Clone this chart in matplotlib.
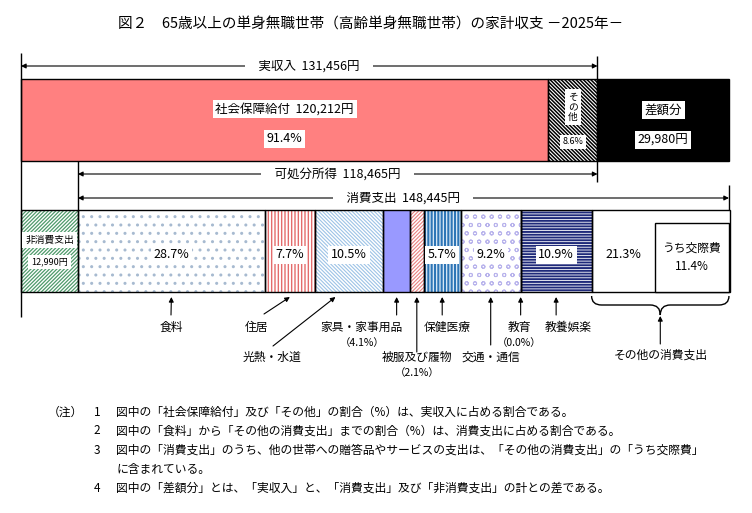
import matplotlib.pyplot as plt
from matplotlib.path import Path
from matplotlib.patches import PathPatch

plt.rcParams['font.family'] = ['Noto Sans CJK JP', 'DejaVu Sans']

# データ（円・%）
title = '図２　65歳以上の単身無職世帯（高齢単身無職世帯）の家計収支 －2025年－'
income = 131456          # 実収入
social = 120212          # 社会保障給付
social_pct = 91.4
other_income_pct = 8.6
deficit = 29980          # 差額分
disposable = 118465      # 可処分所得
non_cons = 12990         # 非消費支出
cons = 148445            # 消費支出
cats = ['食料', '住居', '光熱・水道', '家具・家事用品', '被服及び履物',
        '保健医療', '交通・通信', '教育', '教養娯楽', 'その他の消費支出']
shares = [28.7, 7.7, 10.5, 4.1, 2.1, 5.7, 9.2, 0.0, 10.9, 21.3]
kosai_pct = 11.4         # うち交際費
notes = [
    ('（注）', '1', '図中の「社会保障給付」及び「その他」の割合（%）は、実収入に占める割合である。'),
    ('', '2', '図中の「食料」から「その他の消費支出」までの割合（%）は、消費支出に占める割合である。'),
    ('', '3', '図中の「消費支出」のうち、他の世帯への贈答品やサービスの支出は、「その他の消費支出」の「うち交際費」'),
    ('', '', 'に含まれている。'),
    ('', '4', '図中の「差額分」とは、「実収入」と、「消費支出」及び「非消費支出」の計との差である。'),
]

# 見た目（塗り・ハッチ）
seg_styles = [
    dict(fc='white', hatch='..', hc='#a7bad0', hlw=1.0),
    dict(fc='white', hatch='|||||', hc='#e46c6c', hlw=1.0),
    dict(fc='white', hatch='\\' * 9, hc='#9dc3e6', hlw=0.8),
    dict(fc='#9999ff', hatch=None, hc=None, hlw=1.0),
    dict(fc='white', hatch='/' * 9, hc='#e88080', hlw=0.8),
    dict(fc='#ddebf7', hatch='|||||', hc='#2e75b6', hlw=1.5),
    dict(fc='white', hatch='oo', hc='#b9b4ec', hlw=0.7),
    dict(fc='white', hatch=None, hc=None, hlw=1.0),
    dict(fc='white', hatch='------', hc='#1f2a7a', hlw=1.4),
    dict(fc='white', hatch=None, hc=None, hlw=1.0),
]

# 座標：x は円、y はピクセル
scale = 651 / cons
x0 = -21 / scale
fig = plt.figure(figsize=(7.52, 5.13), dpi=100)
ax = fig.add_axes([0, 0, 1, 1])
ax.set_xlim(x0, x0 + 752 / scale)
ax.set_ylim(513, 0)
ax.axis('off')


def px(p):
    return x0 + p / scale


def seg(left, width, yc, h, fc, hatch=None, hc=None, hlw=1.0):
    b = ax.barh(yc, width, left=left, height=h, color=fc,
                edgecolor=hc if hatch else fc, hatch=hatch, linewidth=0, zorder=1)
    for p in b:
        if hasattr(p, 'set_hatch_linewidth'):
            p.set_hatch_linewidth(hlw)
    ax.barh(yc, width, left=left, height=h, fill=False, edgecolor='black',
            linewidth=1.0, zorder=2)


def label(x, y, s, size=9, box=True, **kw):
    bb = dict(facecolor='white', edgecolor='none', pad=2) if box else None
    ax.text(x, y, s, fontsize=size, ha='center', va='center', bbox=bb, zorder=5, **kw)


def arrow(xs, ys, xe, ye):
    ax.annotate('', xy=(xe, ye), xytext=(xs, ys),
                arrowprops=dict(arrowstyle='-|>', color='black', lw=0.8,
                                mutation_scale=7, shrinkA=0, shrinkB=0), zorder=4)


def span(xa, xb, y, s):
    ax.annotate('', xy=(xb, y), xytext=(xa, y),
                arrowprops=dict(arrowstyle='<|-|>', color='black', lw=0.8,
                                mutation_scale=7, shrinkA=0, shrinkB=0), zorder=3)
    ax.text((xa + xb) / 2, y, '　' + s + '　', fontsize=9, ha='center', va='center',
            bbox=dict(facecolor='white', edgecolor='none', pad=0.5), zorder=4)


ax.text(px(371), 25, title, fontsize=10.5, ha='center', va='center')

# 上段：実収入
top_y, bar_h = 120, 82
seg(0, social, top_y, bar_h, '#ff8080')
seg(social, income - social, top_y, bar_h, 'white', '\\' * 9, 'black', 1.1)
seg(income, deficit, top_y, bar_h, 'black')
label(social / 2, 109, f'社会保障給付  {social:,}円')
label(social / 2, 139, f'{social_pct}%')
label(social + (income - social) / 2, 107, 'そ\nの\n他', size=7, linespacing=1.0)
label(social + (income - social) / 2, 142, f'{other_income_pct}%', size=6.5)
label(income + deficit / 2, 110, '差額分')
label(income + deficit / 2, 140, f'{deficit:,}円')

# 区間矢印と縦線
cons_end = non_cons + cons
span(0, income, 66, f'実収入  {income:,}円')
span(non_cons, income, 174, f'可処分所得  {disposable:,}円')
span(non_cons, cons_end, 198, f'消費支出  {cons:,}円')
ax.vlines(0, 53, 317, color='black', lw=1.0, zorder=2)
ax.vlines(income, 56, 79, color='black', lw=1.0)
ax.vlines(income, 161, 182, color='black', lw=1.0)
ax.vlines(non_cons, 161, 210, color='black', lw=1.0)
ax.vlines(cons_end, 185, 210, color='black', lw=1.0)

# 下段：非消費支出と消費支出の内訳
bot_y = 251
seg(0, non_cons, bot_y, bar_h, 'white', '/' * 9, '#4f9a6b', 0.9)
label(non_cons / 2, 240, '非消費支出', size=7)
label(non_cons / 2, 262, f'{non_cons:,}円', size=6.5)

lefts = []
left = non_cons
for s, st in zip(shares, seg_styles):
    w = cons * s / 100
    lefts.append(left)
    seg(left, w, bot_y, bar_h, st['fc'], st['hatch'], st['hc'], st['hlw'])
    left += w

kosai_w = cons * kosai_pct / 100
ax.barh(257.5, kosai_w, left=cons_end - kosai_w, height=69, color='white',
        edgecolor='black', linewidth=1.0, zorder=2)
label(cons_end - kosai_w / 2, 257, f'うち交際費\n{kosai_pct}%', size=8.5, box=False,
      linespacing=1.5)

widths = [cons * s / 100 for s in shares]
for i, (c, s) in enumerate(zip(cats, shares)):
    if s >= 5 and i < 9:
        label(lefts[i] + widths[i] / 2, 255, f'{s}%')
label(lefts[9] + (widths[9] - kosai_w) / 2, 255, f'{shares[9]}%', box=False)

# 下の項目名と矢印（位置はピクセル）
# (文字x, 文字y, 矢印開始x, 矢印開始y, 矢印先の区間内位置)
name_pos = [
    (171, 327, 171, 315, 0.5),
    (257, 327, 264, 314, 0.5),
    (272, 357, 273, 346, 0.3),
    (362, 327, None, 315, 0.5),
    (417, 357, None, 352, 0.5),
    (447, 327, None, 315, 0.5),
    (491, 357, None, 345, 0.5),
    (519, 327, None, 315, 0.5),
    (568, 327, None, 315, 0.5),
]
for i, (tx, ty, ax_, ay, fr) in enumerate(name_pos):
    target = lefts[i] + widths[i] * fr
    label(px(tx), ty, cats[i], size=8.5, box=False)
    if shares[i] < 5:
        label(px(tx), ty + 16, f'（{shares[i]}%）', size=7.5, box=False)
    xs = target if ax_ is None else px(ax_)
    arrow(xs, ay, target, 297)

# その他の消費支出の波かっこ
xl, xr = lefts[9], cons_end
xm = (xl + xr) / 2
d = 10 / scale
y0, y1, y2 = 296, 305, 315
verts = [(xl, y0), (xl, y1), (xl + d, y1), (xm - d, y1), (xm, y1), (xm, y2),
         (xm, y1), (xm + d, y1), (xr - d, y1), (xr, y1), (xr, y0)]
codes = [Path.MOVETO, Path.CURVE3, Path.CURVE3, Path.LINETO, Path.CURVE3, Path.CURVE3,
         Path.CURVE3, Path.CURVE3, Path.LINETO, Path.CURVE3, Path.CURVE3]
ax.add_patch(PathPatch(Path(verts, codes), fill=False, edgecolor='black', lw=1.0))
arrow(xm, 344, xm, 316)
label(xm, 355, cats[9], size=8.5, box=False)

# 注
for k, (a, n, t) in enumerate(notes):
    y = 412 + 19 * k
    ax.text(px(48), y, a, fontsize=8.5, ha='left', va='center')
    ax.text(px(97), y, n, fontsize=8.5, ha='center', va='center')
    ax.text(px(116), y, t, fontsize=8.5, ha='left', va='center')

fig.savefig('out.png', dpi=100)
